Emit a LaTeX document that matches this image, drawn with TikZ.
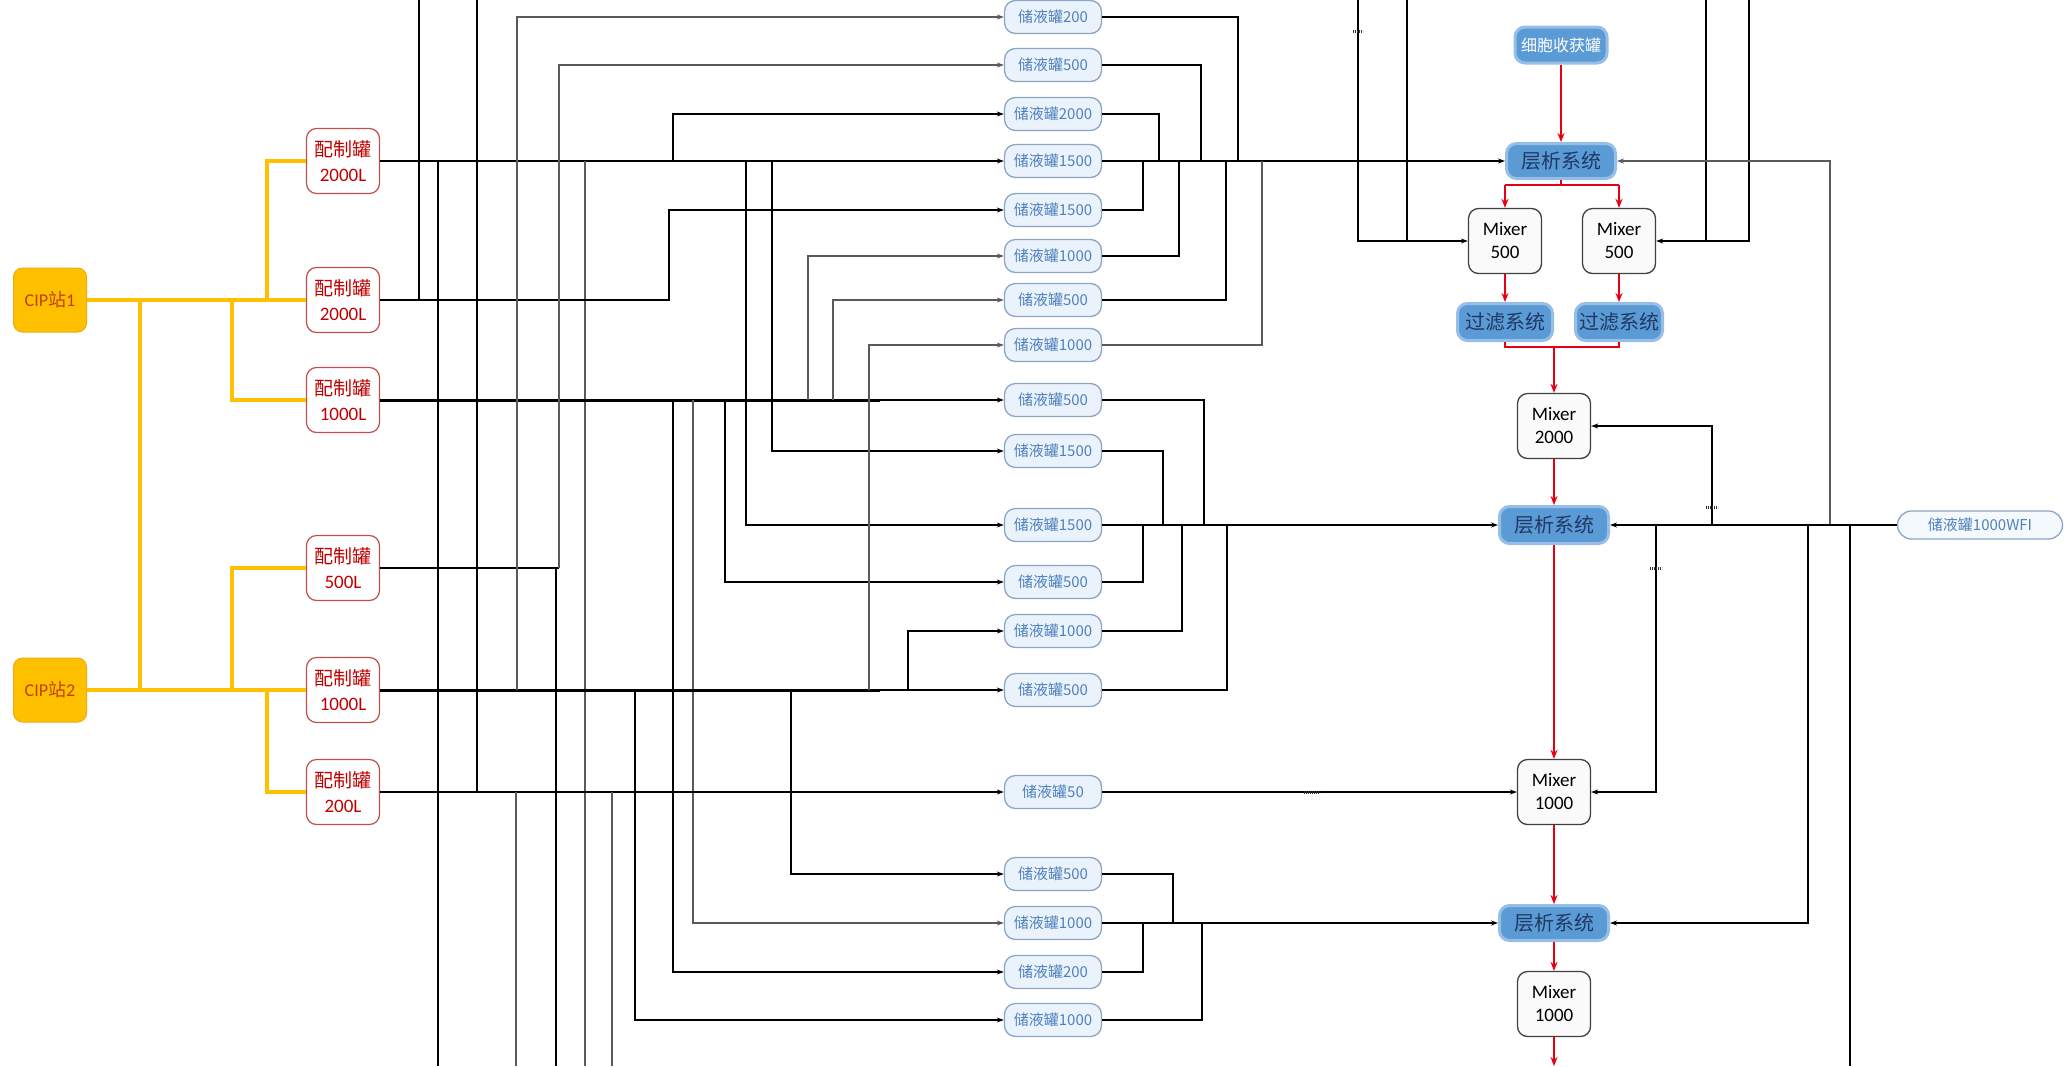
\documentclass[tikz,border=0pt]{standalone}
\usepackage{fontspec}
\setmainfont{Carlito}
\newfontfamily\cjk{Noto Sans CJK SC}
\usetikzlibrary{arrows.meta}
\definecolor{pzred}{RGB}{192,80,77}
\definecolor{pztext}{RGB}{192,0,0}
\definecolor{cipfill}{RGB}{255,192,0}
\definecolor{cipdraw}{RGB}{238,172,20}
\definecolor{ciptext}{RGB}{192,64,0}
\definecolor{cipline}{RGB}{255,192,0}
\definecolor{sfill}{RGB}{234,243,252}
\definecolor{sdraw}{RGB}{140,165,195}
\definecolor{stext}{RGB}{79,129,189}
\definecolor{cblue}{RGB}{91,155,213}
\definecolor{cglow}{RGB}{150,190,230}
\definecolor{ctext}{RGB}{31,56,100}
\definecolor{gpipecol}{RGB}{90,90,90}
\definecolor{redline}{RGB}{230,0,18}
\begin{document}
\begin{tikzpicture}[x=1pt,y=-1pt,
  pz/.style={draw=pzred, line width=1.2, fill=white, rounded corners=10, minimum width=73, minimum height=65, inner sep=1, align=center, text=pztext, font=\fontsize{19}{25}\selectfont},
  cip/.style={fill=cipfill, draw=cipdraw, line width=1, rounded corners=9, minimum width=73, minimum height=64, inner sep=1, text=ciptext, font=\fontsize{18}{22}\selectfont},
  store/.style={draw=sdraw, line width=1.3, fill=sfill, rounded corners=11, minimum width=97, minimum height=33, inner sep=1, text=stext, font=\cjk\fontsize{15}{18}\selectfont},
  chrom/.style={fill=cblue, draw=cglow, line width=3, rounded corners=10, minimum width=109, minimum height=35, inner sep=1, text=ctext, font=\cjk\fontsize{20}{24}\selectfont},
  mixer/.style={draw=black!75, line width=1.3, fill=black!2, rounded corners=10, minimum width=73, minimum height=65, inner sep=1, align=center, font=\fontsize{19}{23}\selectfont},
  pipe/.style={draw=black, line width=1.6},
  gpipe/.style={draw=gpipecol, line width=1.8},
  bus/.style={draw=black, line width=3},
  yl/.style={draw=cipline, line width=3.2},
  rd/.style={draw=redline, line width=1.5},
  arr/.style={-{Stealth[length=7pt,width=5pt]}},
  rarr/.style={-{Stealth[length=9pt,width=7pt]}},
  tickmark/.style={draw=black!80, line width=3, dash pattern=on 1.2pt off 0.8pt}
]
\fill[white] (0,0) rectangle (2072,1066);
\useasboundingbox (0,0) rectangle (2072,1066);

% ---------- nodes ----------
\node[cip] (cip1) at (50,300) {CIP{\cjk 站}1};
\node[cip] (cip2) at (50,690) {CIP{\cjk 站}2};

\node[pz] (p1) at (343,161) {{\cjk 配制罐}\\2000L};
\node[pz] (p2) at (343,300) {{\cjk 配制罐}\\2000L};
\node[pz] (p3) at (343,400) {{\cjk 配制罐}\\1000L};
\node[pz] (p4) at (343,568) {{\cjk 配制罐}\\500L};
\node[pz] (p5) at (343,690) {{\cjk 配制罐}\\1000L};
\node[pz] (p6) at (343,792) {{\cjk 配制罐}\\200L};

\node[store] (s1) at (1053,17) {储液罐200};
\node[store] (s2) at (1053,65) {储液罐500};
\node[store] (s3) at (1053,114) {储液罐2000};
\node[store] (s4) at (1053,161) {储液罐1500};
\node[store] (s5) at (1053,210) {储液罐1500};
\node[store] (s6) at (1053,256) {储液罐1000};
\node[store] (s7) at (1053,300) {储液罐500};
\node[store] (s8) at (1053,345) {储液罐1000};
\node[store] (s9) at (1053,400) {储液罐500};
\node[store] (s10) at (1053,451) {储液罐1500};
\node[store] (s11) at (1053,525) {储液罐1500};
\node[store] (s12) at (1053,582) {储液罐500};
\node[store] (s13) at (1053,631) {储液罐1000};
\node[store] (s14) at (1053,690) {储液罐500};
\node[store] (s15) at (1053,792) {储液罐50};
\node[store] (s16) at (1053,874) {储液罐500};
\node[store] (s17) at (1053,923) {储液罐1000};
\node[store] (s18) at (1053,972) {储液罐200};
\node[store] (s19) at (1053,1020) {储液罐1000};

\node[chrom, text=white, minimum width=92, minimum height=36, font=\cjk\fontsize{16}{19}\selectfont] (hv) at (1561,45) {细胞收获罐};
\node[chrom] (c1) at (1561,161) {层析系统};
\node[mixer] (ma) at (1505,241) {Mixer\\500};
\node[mixer] (mb) at (1619,241) {Mixer\\500};
\node[chrom, minimum width=95, minimum height=37] (fa) at (1505,322) {过滤系统};
\node[chrom, minimum width=87, minimum height=37] (fb) at (1619,322) {过滤系统};
\node[mixer] (m2) at (1554,426) {Mixer\\2000};
\node[chrom, minimum height=37] (c2) at (1554,525) {层析系统};
\node[mixer] (m3) at (1554,792) {Mixer\\1000};
\node[chrom] (c3) at (1554,923) {层析系统};
\node[mixer] (m4) at (1554,1004) {Mixer\\1000};
\node[store, minimum width=165, minimum height=28, rounded corners=14, fill=sfill!50, font=\cjk\fontsize{15}{18}\selectfont] (wfi) at (1980,525) {储液罐1000WFI};

% ---------- CIP yellow lines ----------
\coordinate (y1) at (140,300);
\coordinate (y2) at (232,300);
\coordinate (y3) at (267,300);
\coordinate (y4) at (140,690);
\coordinate (y5) at (232,690);
\coordinate (y6) at (267,690);
\draw[yl] (cip1.east) -- (p2.west);
\draw[yl] (y1) -- (y4);
\draw[yl] (y2) |- (p3.west);
\draw[yl] (y3) |- (p1.west);
\draw[yl] (cip2.east) -- (p5.west);
\draw[yl] (y5) |- (p4.west);
\draw[yl] (y6) |- (p6.west);

% ---------- feed lines from 配制罐 ----------
% R1
\draw[pipe,arr] (p1.east) -- (s4.west);
\draw[pipe] (438,161) -- (438,1066);
\draw[gpipe] (585,161) -- (585,1066);
\draw[pipe,arr] (673,161) |- (s3.west);
\draw[pipe,arr] (746,161) |- (s11.west);
\draw[pipe,arr] (772,161) |- (s10.west);
% R2
\draw[pipe,arr] (p2.east) -- (669,300) |- (s5.west);
\draw[pipe] (419,300) -- (419,0);
% R3
\draw[bus] (p3.east) -- (880,400);
\draw[pipe,arr] (880,400) -- (s9.west);
\draw[gpipe,arr] (808,400) |- (s6.west);
\draw[gpipe,arr] (833,400) |- (s7.west);
\draw[pipe,arr] (673,400) |- (s18.west);
\draw[gpipe,arr] (693,400) |- (s17.west);
\draw[pipe,arr] (725,400) |- (s12.west);
% R4
\draw[pipe] (p4.east) -- (559,568);
\draw[gpipe,arr] (559,568) |- (s2.west);
\draw[pipe] (556,568) -- (556,1066);
% R5
\draw[bus] (p5.east) -- (880,690);
\draw[pipe,arr] (880,690) -- (s14.west);
\draw[gpipe,arr] (517,690) |- (s1.west);
\draw[gpipe,arr] (869,690) |- (s8.west);
\draw[pipe,arr] (908,690) |- (s13.west);
\draw[pipe,arr] (635,690) |- (s19.west);
\draw[pipe,arr] (791,690) |- (s16.west);
% R6
\draw[pipe, line width=2.2,arr] (p6.east) -- (s15.west);
\draw[pipe] (477,792) -- (477,0);
\draw[gpipe] (516,792) -- (516,1066);
\draw[gpipe] (612,792) -- (612,1066);

% ---------- storage outputs ----------
\draw[pipe] (s1.east) -| (1238,161);
\draw[pipe] (s2.east) -| (1201,161);
\draw[pipe] (s3.east) -| (1159,161);
\draw[pipe,arr] (s4.east) -- (c1.west);
\draw[pipe] (s5.east) -| (1143,161);
\draw[pipe] (s6.east) -| (1179,161);
\draw[pipe] (s7.east) -| (1226,161);
\draw[gpipe] (s8.east) -| (1262,161);
\draw[pipe] (s9.east) -| (1204,525);
\draw[pipe] (s10.east) -| (1163,525);
\draw[pipe,arr] (s11.east) -- (c2.west);
\draw[pipe] (s12.east) -| (1143,525);
\draw[pipe] (s13.east) -| (1182,525);
\draw[pipe] (s14.east) -| (1227,525);
\draw[pipe,arr] (s15.east) -- (m3.west);
\draw[pipe] (s16.east) -| (1173,923);
\draw[pipe,arr] (s17.east) -- (c3.west);
\draw[pipe] (s18.east) -| (1143,923);
\draw[pipe] (s19.east) -| (1202,923);

% ---------- right region black lines ----------
\draw[pipe,arr] (1358,0) |- (ma.west);
\draw[pipe] (1407,0) -- (1407,241);
\draw[pipe,arr] (1749,0) |- (mb.east);
\draw[pipe] (1706,0) -- (1706,241);
\draw[gpipe,arr] (1830,525) |- (c1.east);
\draw[pipe,arr] (wfi.west) -- (c2.east);
\draw[pipe,arr] (1712,525) |- (m2.east);
\draw[pipe,arr] (1656,525) |- (m3.east);
\draw[pipe,arr] (1808,525) |- (c3.east);
\draw[pipe] (1850,525) -- (1850,1066);

% tiny line labels
\draw[tickmark] (1353,31) -- (1363,31);
\draw[tickmark] (1706,507) -- (1718,507);
\draw[tickmark] (1650,568) -- (1662,568);
\draw[tickmark] (1304,792) -- (1320,792);

% ---------- red process flow ----------
\draw[rd,rarr] (hv.south) -- (c1.north);
\draw[rd] (c1.south) -- (1561,185);
\draw[rd] (1505,185) -- (1619,185);
\draw[rd,rarr] (1505,185) -- (ma.north);
\draw[rd,rarr] (1619,185) -- (mb.north);
\draw[rd,rarr] (ma.south) -- (fa.north);
\draw[rd,rarr] (mb.south) -- (fb.north);
\draw[rd] (fa.south) |- (1619,347) -- (fb.south);
\draw[rd,rarr] (1554,347) -- (m2.north);
\draw[rd,rarr] (m2.south) -- (c2.north);
\draw[rd,rarr] (c2.south) -- (m3.north);
\draw[rd,rarr] (m3.south) -- (c3.north);
\draw[rd,rarr] (c3.south) -- (m4.north);
\draw[rd,rarr] (m4.south) -- (1554,1066);
\end{tikzpicture}
\end{document}
